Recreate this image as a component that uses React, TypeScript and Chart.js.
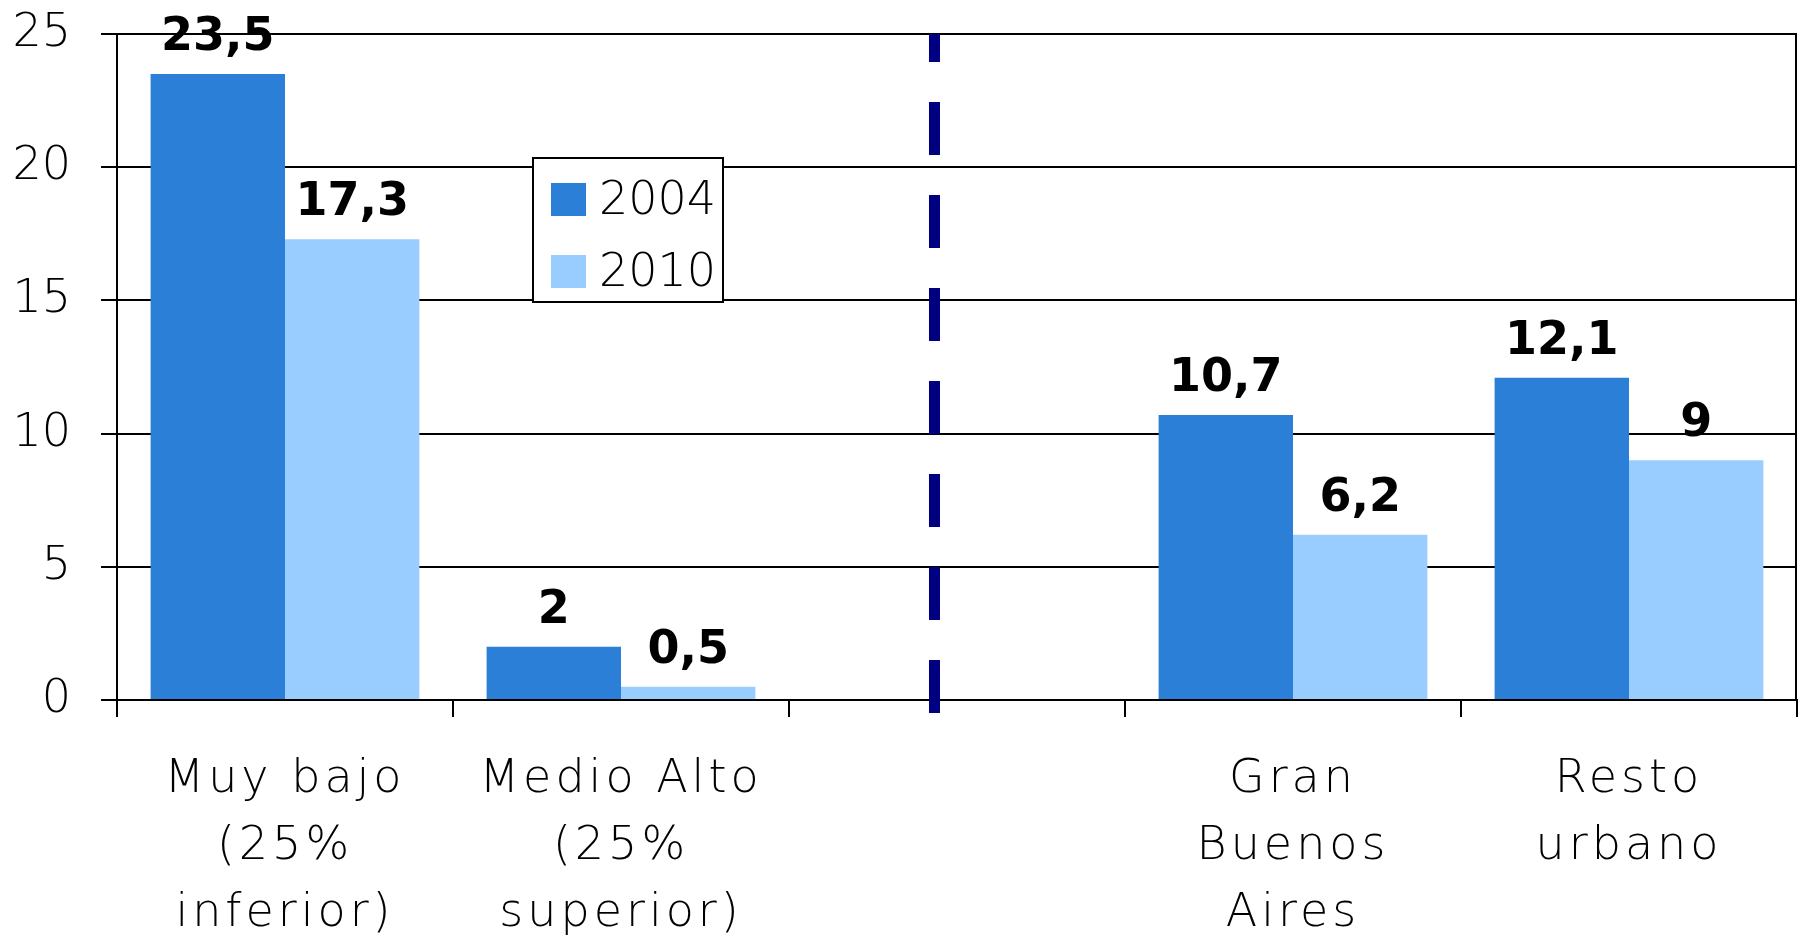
import React, { useEffect, useRef } from 'react';
import { Chart, registerables } from 'chart.js';

Chart.register(...registerables);

const categories: string[][] = [
  ['Muy bajo', '(25%', 'inferior)'],
  ['Medio Alto', '(25%', 'superior)'],
  [''],
  ['Gran', 'Buenos', 'Aires'],
  ['Resto', 'urbano'],
];
const seriesLabels = ['2004', '2010'];
const values2004: (number | null)[] = [23.5, 2, null, 10.7, 12.1];
const values2010: (number | null)[] = [17.3, 0.5, null, 6.2, 9];
const yTickValues = [0, 5, 10, 15, 20, 25];
// separator position, in category-index units
const dividerPosition = 1.933;

const seriesColors = ['#2B7FD6', '#99CCFF'];
const FONT = '"DejaVu Sans", "Noto Sans", sans-serif';

const fmt = (v: number) => String(v).replace('.', ',');

const spacingPlugin = {
  id: 'spacing',
  beforeDraw(chart: any) {
    (chart.ctx as any).letterSpacing = '4px';
  },
  afterDatasetsDraw(chart: any) {
    (chart.ctx as any).letterSpacing = '0px';
  },
};

const overlayPlugin = {
  id: 'overlay',
  afterDraw(chart: any) {
    const ctx: CanvasRenderingContext2D = chart.ctx;
    const { left, right, top, bottom } = chart.chartArea;
    ctx.save();
    (ctx as any).letterSpacing = '0px';
    // right frame line
    ctx.strokeStyle = '#000';
    ctx.lineWidth = 2;
    ctx.beginPath();
    ctx.moveTo(right - 1, top);
    ctx.lineTo(right - 1, bottom);
    ctx.stroke();

    // data labels
    ctx.fillStyle = '#000';
    ctx.font = `bold 46px ${FONT}`;
    ctx.textAlign = 'center';
    ctx.textBaseline = 'alphabetic';
    chart.data.datasets.forEach((ds: any, i: number) => {
      const meta = chart.getDatasetMeta(i);
      meta.data.forEach((bar: any, j: number) => {
        const v = ds.data[j];
        if (v === null || v === undefined) return;
        ctx.fillText(fmt(v), bar.x, bar.y - 24);
      });
    });

    // dashed divider
    const xs = chart.scales.x;
    const px = xs.getPixelForValue(dividerPosition);
    ctx.strokeStyle = '#000080';
    ctx.lineWidth = 11;
    ctx.lineCap = 'butt';
    ctx.setLineDash([53, 40]);
    ctx.beginPath();
    ctx.moveTo(px, bottom + 13);
    ctx.lineTo(px, top);
    ctx.stroke();
    ctx.setLineDash([]);

    // legend
    const lx = left + 416;
    const ly = top + 124;
    const lw = 190;
    const lh = 144;
    ctx.fillStyle = '#fff';
    ctx.fillRect(lx, ly, lw, lh);
    ctx.strokeStyle = '#000';
    ctx.lineWidth = 2;
    ctx.strokeRect(lx, ly, lw, lh);
    ctx.font = `300 46px ${FONT}`;
    ctx.textAlign = 'left';
    ctx.textBaseline = 'middle';
    chart.data.datasets.forEach((ds: any, i: number) => {
      const cy = ly + 42 + i * 72;
      ctx.fillStyle = ds.backgroundColor;
      ctx.fillRect(lx + 18, cy - 17, 35, 33);
      ctx.fillStyle = '#000';
      ctx.fillText(ds.label, lx + 66, cy + 2);
    });
    ctx.restore();
  },
};

export default function App() {
  const ref = useRef<HTMLCanvasElement | null>(null);
  useEffect(() => {
    if (!ref.current) return;
    const chart = new Chart(ref.current, {
      type: 'bar',
      data: {
        labels: categories,
        datasets: [
          { label: seriesLabels[0], data: values2004, backgroundColor: seriesColors[0], borderWidth: 0 },
          { label: seriesLabels[1], data: values2010, backgroundColor: seriesColors[1], borderWidth: 0 },
        ],
      },
      options: {
        responsive: false,
        animation: false,
        devicePixelRatio: 1,
        layout: { padding: { top: 34, right: 5, left: 0, bottom: 0 } },
        plugins: { legend: { display: false }, tooltip: { enabled: false } },
        datasets: { bar: { categoryPercentage: 0.8, barPercentage: 1.0 } },
        scales: {
          x: {
            offset: true,
            grid: {
              display: true,
              offset: true,
              drawOnChartArea: false,
              drawTicks: true,
              tickLength: 17,
              color: '#000',
              lineWidth: 2,
            },
            border: { display: true, color: '#000', width: 2 },
            ticks: {
              autoSkip: false,
              maxRotation: 0,
              padding: 30,
              color: '#000',
              font: { family: FONT, size: 46, weight: '300', lineHeight: 1.45 },
            },
            afterFit: (s: any) => {
              s.height = 240;
            },
          },
          y: {
            min: 0,
            max: 25,
            afterBuildTicks: (s: any) => {
              s.ticks = yTickValues.map((v) => ({ value: v }));
            },
            grid: { color: '#000', lineWidth: 2, tickLength: 16, drawTicks: true, z: 0 },
            border: { display: true, color: '#000', width: 2, z: 0 },
            ticks: {
              z: 1,
              padding: 30,
              color: '#000',
              font: { family: FONT, size: 46, weight: '300' },
            },
            afterFit: (s: any) => {
              s.width = 117;
              s.paddingTop = 0;
              s.paddingBottom = 0;
            },
          },
        },
      },
      plugins: [spacingPlugin, overlayPlugin],
    });
    return () => chart.destroy();
  }, []);
  return (
    <div style={{ position: 'fixed', left: 0, top: 0, width: 1802, height: 940, background: '#fff' }}>
      <canvas ref={ref} width={1802} height={940} style={{ display: 'block' }} />
    </div>
  );
}
